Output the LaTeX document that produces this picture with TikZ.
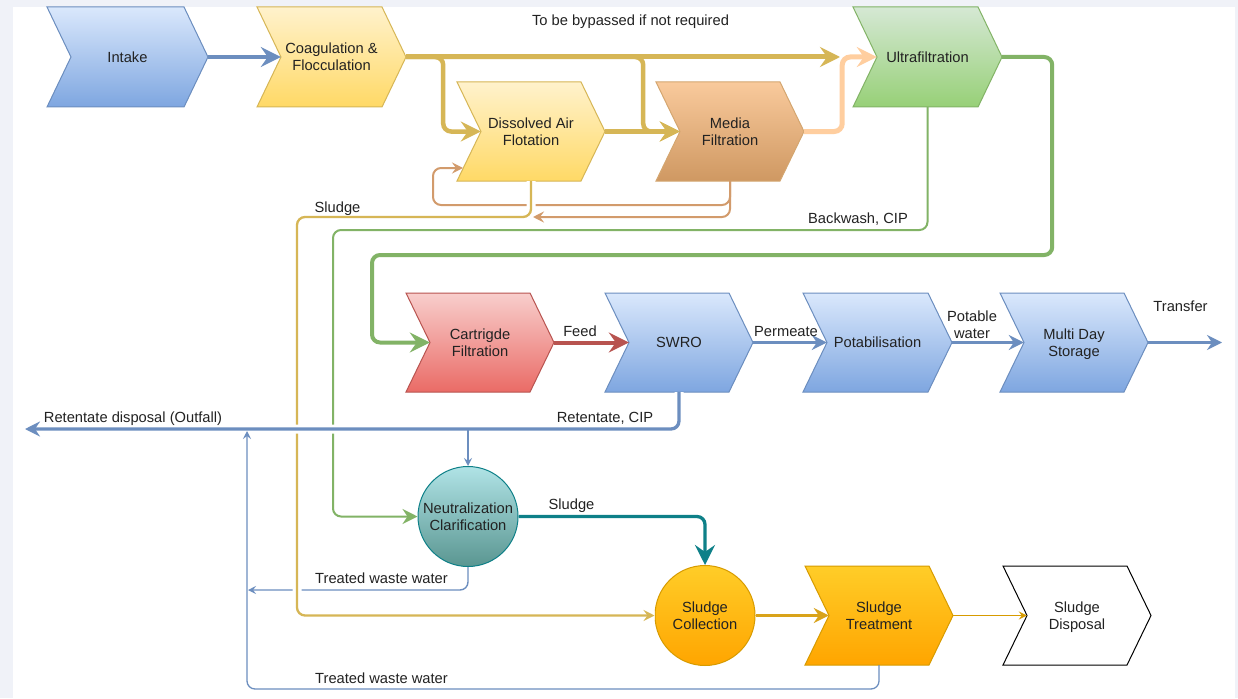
\documentclass[tikz,border=0pt]{standalone}
\usepackage{fontspec}
\setmainfont{Liberation Sans}
\usetikzlibrary{arrows.meta,calc}
\definecolor{bggray}{HTML}{F0F2F8}
\definecolor{txt}{HTML}{222222}
\definecolor{bluestroke}{HTML}{6C8EBF}
\definecolor{bluetop}{HTML}{DAE8FC}
\definecolor{bluebot}{HTML}{7EA6E0}
\definecolor{yelstroke}{HTML}{D6B656}
\definecolor{yeltop}{HTML}{FFF2CC}
\definecolor{yelbot}{HTML}{FFD966}
\definecolor{orgtop}{HTML}{F9CA9C}
\definecolor{orgbot}{HTML}{CF9862}
\definecolor{orgstroke}{HTML}{D4A670}
\definecolor{grntop}{HTML}{D5E8D4}
\definecolor{grnbot}{HTML}{97D077}
\definecolor{grnstroke}{HTML}{82B366}
\definecolor{redtop}{HTML}{F8CECC}
\definecolor{redbot}{HTML}{EA6B66}
\definecolor{redstroke}{HTML}{B85450}
\definecolor{tealtop}{HTML}{B0E3E6}
\definecolor{tealbot}{HTML}{5A9691}
\definecolor{tealstroke}{HTML}{0E8088}
\definecolor{sltop}{HTML}{FFCD28}
\definecolor{slbot}{HTML}{FFA500}
\definecolor{slstroke}{HTML}{D79B00}
\definecolor{slline}{HTML}{D9A31A}
\definecolor{goldline}{HTML}{D6B656}
\definecolor{peach}{HTML}{FFCE9F}
\definecolor{brownline}{HTML}{D29B6C}
\newcommand\mkstep[7]{%
  \path[#6] (#2,#3) -- ++({#4-24},0) -- ++(24,{#5/2}) -- ++(-24,{#5/2}) -- ++({24-#4},0) -- ++(24,{-#5/2}) -- cycle;
  \node[lbl,minimum width=#4pt,minimum height=#5pt] (#1) at ({#2+#4/2},{#3+#5/2}) {#7};}
\tikzset{
  lbl/.style={inner sep=0pt,align=center,text=txt,text depth=0pt},
  blueshape/.style={draw=bluestroke,top color=bluetop,bottom color=bluebot,line width=1pt},
  yelshape/.style={draw=yelstroke,top color=yeltop,bottom color=yelbot,line width=1pt},
  orgshape/.style={draw=orgstroke,top color=orgtop,bottom color=orgbot,line width=1pt},
  grnshape/.style={draw=grnstroke,top color=grntop,bottom color=grnbot,line width=1pt},
  redshape/.style={draw=redstroke,top color=redtop,bottom color=redbot,line width=1pt},
  slshape/.style={draw=slstroke,top color=sltop,bottom color=slbot,line width=1pt},
  whshape/.style={draw=black,fill=white,line width=1pt},
  bigtip/.style={-{Stealth[length=20pt,width=20pt,inset=7pt]}},
  midtip/.style={-{Stealth[length=15pt,width=15pt,inset=5pt]}},
  smalltip/.style={-{Stealth[length=11pt,width=11pt,inset=4pt]}},
  tinytip/.style={-{Stealth[length=8pt,width=8pt,inset=3pt]}},
  conn/.style={rounded corners=8pt},
  gap/.style={preaction={draw=white,line width=9pt,-,arrows={}}},
}
\begin{document}
\begin{tikzpicture}[x=1pt,y=-1pt,font=\fontsize{14.7}{17.2}\selectfont]
\fill[bggray] (0,0) rectangle (1238,698);
\fill[white] (13,7) rectangle (1235,698);
\useasboundingbox (0,0) rectangle (1238,698);

% shapes
\mkstep{intake}{47}{7}{161}{100}{blueshape}{Intake}
\mkstep{coag}{257}{7}{149}{100}{yelshape}{Coagulation \&\\Flocculation}
\mkstep{daf}{457}{82}{148}{99}{yelshape}{Dissolved Air\\Flotation}
\mkstep{media}{656}{82}{148}{99}{orgshape}{Media\\Filtration}
\mkstep{uf}{853}{7}{149}{100}{grnshape}{Ultrafiltration}
\mkstep{cart}{406}{293}{148}{99}{redshape}{Cartrigde\\Filtration}
\mkstep{swro}{605}{293}{148}{99}{blueshape}{SWRO}
\mkstep{potab}{803}{293}{149}{99}{blueshape}{Potabilisation}
\mkstep{store}{1000}{293}{148}{99}{blueshape}{Multi Day\\Storage}
\mkstep{streat}{805}{566}{148}{99}{slshape}{Sludge\\Treatment}
\mkstep{sdisp}{1003}{566}{148}{99}{whshape}{Sludge\\Disposal}
\node[lbl,circle,minimum size=100pt,draw=tealstroke,line width=1pt,top color=tealtop,bottom color=tealbot] (neut) at (468,516.5) {Neutralization\\Clarification};
\node[lbl,circle,minimum size=100pt,draw=slstroke,line width=1pt,top color=sltop,bottom color=slbot] (scoll) at (705,615.5) {Sludge\\Collection};

% coordinates for free ends
\coordinate (ufin) at (840,57);
\coordinate (dafin) at (463,168);
\coordinate (sludgejoin) at (533,217);
\coordinate (outfall) at (25,429);
\coordinate (transfer) at (1222,342.5);
\coordinate (twend) at (248,590);
\coordinate (retj) at (247,431);

% top section
\draw[bluestroke,line width=4.3pt,bigtip] (intake.east) -- ([xshift=24pt]coag.west);
\draw[goldline,line width=5pt,bigtip] (coag.east) -- (ufin);
\draw[goldline,line width=4.5pt,conn,bigtip] (coag.east) -- ++(37,0) |- ([xshift=24pt]daf.west);
\draw[goldline,line width=4.5pt,conn,bigtip] (coag.east) -- ++(237,0) |- ([xshift=24pt]media.west);
\draw[goldline,line width=4.5pt,bigtip] (daf.east) -- ([xshift=24pt]media.west);
\draw[peach,line width=5pt,conn,bigtip] (media.east) -- ++(38,0) |- ([xshift=24pt]uf.west);

\draw[brownline,line width=2pt,conn,smalltip] (media.south) |- (433,205) |- (dafin);
\draw[brownline,line width=2pt,conn,smalltip] (media.south) |- (sludgejoin);

% sludge (gold) from DAF to sludge collection
\draw[bluestroke,line width=1.4pt,conn,tinytip] (neut.south) |- (twend);
\draw[goldline,line width=2.3pt,conn,gap,smalltip] (daf.south) |- (297,217) |- (scoll.west);

% UF backwash and UF -> cartridge
\draw[grnstroke,line width=2pt,conn,midtip] (uf.south) |- (333,230) |- (neut.west);
\draw[grnstroke,line width=4pt,conn,bigtip] (uf.east) -- ++(50,0) |- (372,255) |- ([xshift=24pt]cart.west);

% main line
\draw[redstroke,line width=4pt,bigtip] (cart.east) -- ([xshift=24pt]swro.west);
\draw[bluestroke,line width=3pt,midtip] (swro.east) -- ([xshift=24pt]potab.west);
\draw[bluestroke,line width=3pt,midtip] (potab.east) -- ([xshift=24pt]store.west);
\draw[bluestroke,line width=3pt,midtip] (store.east) -- (transfer);

% retentate
\draw[bluestroke,line width=3.3pt,conn,gap,midtip] (swro.south) |- (outfall);
\draw[bluestroke,line width=1.4pt,tinytip] (neut.north |- outfall) -- (neut.north);
\draw[bluestroke,line width=1.3pt,conn,tinytip] (streat.south) |- (247,689) -- (retj);

% sludge line
\draw[tealstroke,line width=3.3pt,conn,bigtip] (neut.east) -| (scoll.north);
\draw[slline,line width=3pt,midtip] (scoll.east) -- ([xshift=24pt]streat.west);
\draw[slstroke,line width=1.5pt,tinytip] (streat.east) -- ([xshift=24pt]sdisp.west);

% labels
\node[lbl] (lbypass) at (630.5,20) {To be bypassed if not required};
\node[lbl] (lsludge1) at (337.5,207) {Sludge};
\node[lbl] (lback) at (858,218) {Backwash, CIP};
\node[lbl] (lfeed) at (580,331) {Feed};
\node[lbl] (lperm) at (786,331) {Permeate};
\node[lbl] (lpot) at (972,324.5) {Potable\\water};
\node[lbl] (ltrans) at (1180.5,306) {Transfer};
\node[lbl] (lout) at (133,417) {Retentate disposal (Outfall)};
\node[lbl] (lret) at (605,417) {Retentate, CIP};
\node[lbl] (lsludge2) at (571.5,504) {Sludge};
\node[lbl] (ltw1) at (381.5,578) {Treated waste water};
\node[lbl] (ltw2) at (381.5,678) {Treated waste water};
\end{tikzpicture}
\end{document}
